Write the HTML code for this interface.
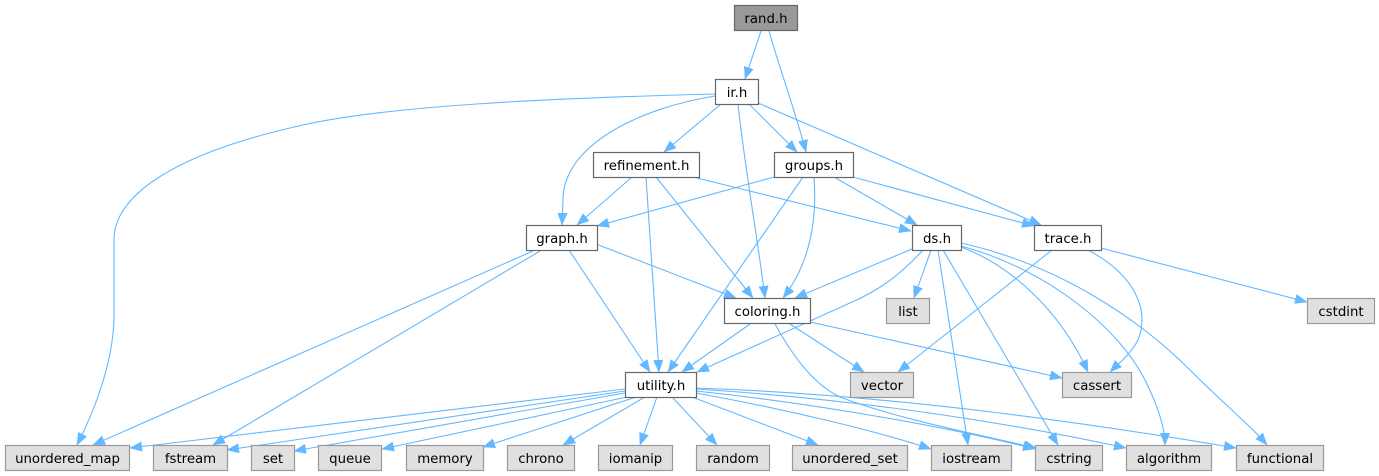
<!DOCTYPE html>
<html><head><meta charset="utf-8"><style>
html,body{margin:0;padding:0;background:#fff;}
svg{display:block;}
text{font-family:"DejaVu Sans","Liberation Sans",sans-serif;font-size:13.3px;fill:#000;text-anchor:middle;}
.e{fill:none;stroke:#63b8ff;stroke-width:1.1;marker-end:url(#a);}
.w{fill:#fff;stroke:#666;stroke-width:1.2;}
.g{fill:#e0e0e0;stroke:#999;stroke-width:1.2;}
.r{fill:#999;stroke:#666;stroke-width:1.2;}
</style></head><body>
<svg width="1379" height="476" viewBox="0 0 1379 476" xmlns="http://www.w3.org/2000/svg">
<defs>
<marker id="a" markerUnits="userSpaceOnUse" markerWidth="13" markerHeight="10" refX="12" refY="5" orient="auto">
<path d="M0,0.3 L12,5 L0,9.7 z" fill="#63b8ff" stroke="#63b8ff" stroke-width="0.5"/>
</marker>
</defs>
<!-- edges -->
<path class="e" d="M761,31 L745,79"/>
<path class="e" d="M769,31 C780,70 795,110 806,152"/>
<path class="e" d="M715,94 C560,98 380,105 290,128 C175,155 114,195 114,240 L114,315 C114,360 95,410 77,445"/>
<path class="e" d="M715,96 C640,108 563,145 563,200 L562,225"/>
<path class="e" d="M721,104 L664,152"/>
<path class="e" d="M738,104 C745,170 758,240 765,298"/>
<path class="e" d="M749,104 L797,152"/>
<path class="e" d="M758,103 L1041,225"/>
<path class="e" d="M632,177 L577,225"/>
<path class="e" d="M646,177 L659,372"/>
<path class="e" d="M656,177 L753,298"/>
<path class="e" d="M693,177 L911,231"/>
<path class="e" d="M774,177 L597,226"/>
<path class="e" d="M803,177 L668,372"/>
<path class="e" d="M814,177 C818,230 805,270 783,298"/>
<path class="e" d="M834,177 L917,225"/>
<path class="e" d="M853,177 L1034,226"/>
<path class="e" d="M533,251 L93,445"/>
<path class="e" d="M540,251 L213,445"/>
<path class="e" d="M569,250 L650,372"/>
<path class="e" d="M596,244 L736,298"/>
<path class="e" d="M912,249 L795,298"/>
<path class="e" d="M923,250 C900,275 880,290 850,303 L697,372"/>
<path class="e" d="M931,250 L914,298"/>
<path class="e" d="M938,250 L968,445"/>
<path class="e" d="M943,250 L1058,445"/>
<path class="e" d="M961,247 C1010,265 1060,310 1088,372"/>
<path class="e" d="M961,246 C1050,270 1120,330 1145,380 C1160,410 1165,430 1165,445"/>
<path class="e" d="M961,243 C1060,265 1140,320 1190,370 C1225,405 1250,425 1267,445"/>
<path class="e" d="M1052,250 L898,372"/>
<path class="e" d="M1088,250 C1135,275 1150,310 1138,340 C1130,355 1120,362 1110,372"/>
<path class="e" d="M1101,248 L1307,302"/>
<path class="e" d="M750,324 L682,372"/>
<path class="e" d="M790,324 L864,372"/>
<path class="e" d="M810,322 L1062,378"/>
<path class="e" d="M775,324 C795,360 815,385 840,397 C900,420 990,437 1036,448"/>
<path class="e" d="M625,389 L130,448"/>
<path class="e" d="M625,391 L227,450"/>
<path class="e" d="M625,393 L294,451"/>
<path class="e" d="M627,397 L382,449"/>
<path class="e" d="M636,397 L483,447"/>
<path class="e" d="M645,397 L563,445"/>
<path class="e" d="M657,397 L640,445"/>
<path class="e" d="M672,397 L717,445"/>
<path class="e" d="M692,397 L818,445"/>
<path class="e" d="M696,393 C790,410 880,432 931,449"/>
<path class="e" d="M696,391 C830,405 960,430 1035,449"/>
<path class="e" d="M696,389 C870,400 1020,425 1126,448"/>
<path class="e" d="M696,388 C900,395 1100,425 1236,448"/>
<!-- nodes -->
<rect class="r" x="734.5" y="5.5" width="63" height="25"/><text x="766" y="23">rand.h</text>
<rect class="w" x="715.5" y="79.5" width="43" height="25"/><text x="737" y="97">ir.h</text>
<rect class="w" x="593.5" y="152.5" width="106" height="25"/><text x="646.5" y="170">refinement.h</text>
<rect class="w" x="774.5" y="152.5" width="79" height="25"/><text x="814" y="170">groups.h</text>
<rect class="w" x="526.5" y="225.5" width="71" height="25"/><text x="562" y="243">graph.h</text>
<rect class="w" x="912.5" y="225.5" width="49" height="25"/><text x="937" y="243">ds.h</text>
<rect class="w" x="1034.5" y="225.5" width="67" height="25"/><text x="1068" y="243">trace.h</text>
<rect class="w" x="724.5" y="298.5" width="86" height="25"/><text x="767.5" y="316">coloring.h</text>
<rect class="g" x="886.5" y="298.5" width="43" height="25"/><text x="908" y="316">list</text>
<rect class="g" x="1307.5" y="298.5" width="67" height="25"/><text x="1341" y="316">cstdint</text>
<rect class="w" x="625.5" y="372.5" width="71" height="25"/><text x="661" y="390">utility.h</text>
<rect class="g" x="850.5" y="372.5" width="63" height="25"/><text x="882" y="390">vector</text>
<rect class="g" x="1062.5" y="372.5" width="69" height="25"/><text x="1097" y="390">cassert</text>
<rect class="g" x="5.5" y="445.5" width="124" height="25"/><text x="67.5" y="463">unordered_map</text>
<rect class="g" x="153.5" y="445.5" width="74" height="25"/><text x="190.5" y="463">fstream</text>
<rect class="g" x="251.5" y="445.5" width="43" height="25"/><text x="273" y="463">set</text>
<rect class="g" x="318.5" y="445.5" width="63" height="25"/><text x="350" y="463">queue</text>
<rect class="g" x="406.5" y="445.5" width="77" height="25"/><text x="445" y="463">memory</text>
<rect class="g" x="507.5" y="445.5" width="67" height="25"/><text x="541" y="463">chrono</text>
<rect class="g" x="598.5" y="445.5" width="74" height="25"/><text x="635.5" y="463">iomanip</text>
<rect class="g" x="696.5" y="445.5" width="73" height="25"/><text x="733" y="463">random</text>
<rect class="g" x="792.5" y="445.5" width="115" height="25"/><text x="850" y="463">unordered_set</text>
<rect class="g" x="931.5" y="445.5" width="80" height="25"/><text x="971.5" y="463">iostream</text>
<rect class="g" x="1035.5" y="445.5" width="67" height="25"/><text x="1069" y="463">cstring</text>
<rect class="g" x="1126.5" y="445.5" width="85" height="25"/><text x="1169" y="463">algorithm</text>
<rect class="g" x="1236.5" y="445.5" width="87" height="25"/><text x="1280" y="463">functional</text>
</svg>
</body></html>
